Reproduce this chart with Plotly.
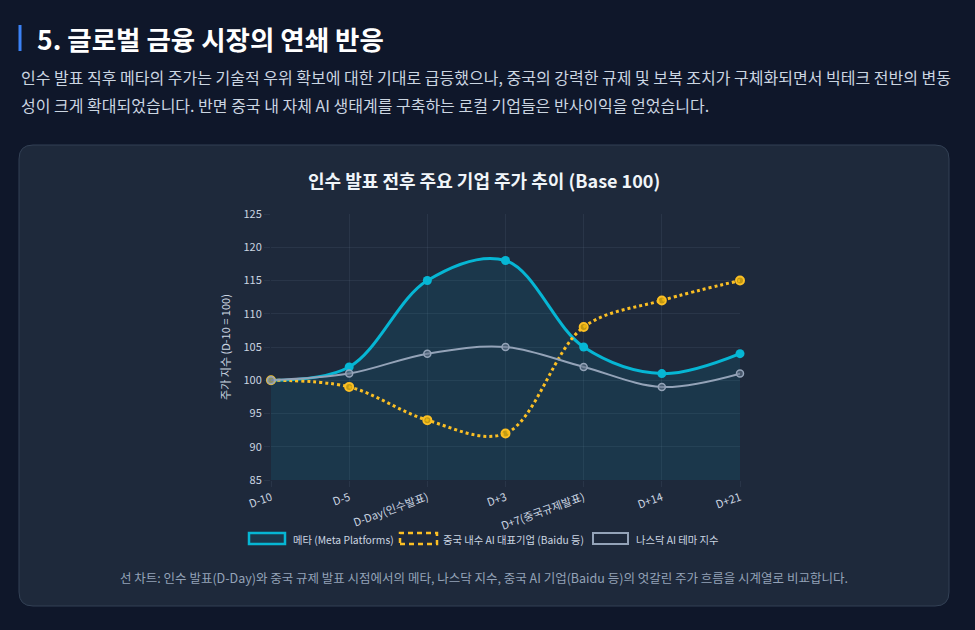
import plotly.graph_objects as go

categories = ["D-10", "D-5", "D-Day(인수발표)", "D+3", "D+7(중국규제발표)", "D+14", "D+21"]
meta_values = [100, 102, 115, 118, 105, 101, 104]
baidu_values = [100, 99, 94, 92, 108, 112, 115]
nasdaq_values = [100, 101, 104, 105, 102, 99, 101]
y_ticks = [85, 90, 95, 100, 105, 110, 115, 120, 125]
series_names = ["메타 (Meta Platforms)", "중국 내수 AI 대표기업 (Baidu 등)", "나스닥 AI 테마 지수"]

W, H = 975, 630
L, R, T, B = 271, 740, 214, 480
FONT = "Noto Sans CJK KR, Noto Sans, sans-serif"


def px(x):
    return (x - L) / (R - L)


def py(y):
    return (B - y) / (B - T)


def rounded_rect(x0, y0, x1, y1, r):
    X0, X1, Y0, Y1 = px(x0), px(x1), py(y0), py(y1)
    rx = r / (R - L)
    ry = r / (B - T)
    return (f"M {X0 + rx},{Y0} L {X1 - rx},{Y0} Q {X1},{Y0} {X1},{Y0 - ry} "
            f"L {X1},{Y1 + ry} Q {X1},{Y1} {X1 - rx},{Y1} L {X0 + rx},{Y1} "
            f"Q {X0},{Y1} {X0},{Y1 + ry} L {X0},{Y0 - ry} Q {X0},{Y0} {X0 + rx},{Y0} Z")


fig = go.Figure()

fig.add_trace(go.Scatter(
    x=categories, y=meta_values, name=series_names[0],
    mode="lines+markers", line=dict(color="#06b6d4", width=3, shape="spline", smoothing=1.0),
    marker=dict(size=9, color="#06b6d4"),
    fill="tozeroy", fillcolor="rgba(6,182,212,0.10)", cliponaxis=False,
))
fig.add_trace(go.Scatter(
    x=categories, y=baidu_values, name=series_names[1],
    mode="lines+markers", line=dict(color="#fbbf24", width=3, dash="dot", shape="spline", smoothing=1.0),
    marker=dict(size=8, color="rgba(234,179,8,0.8)", line=dict(color="#fbbf24", width=2)),
    cliponaxis=False,
))
fig.add_trace(go.Scatter(
    x=categories, y=nasdaq_values, name=series_names[2],
    mode="lines+markers", line=dict(color="#94a3b8", width=2, shape="spline", smoothing=1.0),
    marker=dict(size=7, color="rgba(100,116,139,0.6)", line=dict(color="#94a3b8", width=1.5)),
    cliponaxis=False,
))

shapes = [
    dict(type="path", xref="paper", yref="paper", path=rounded_rect(19, 145, 949, 606, 14),
         fillcolor="#1e293b", line=dict(color="#334155", width=1), layer="below"),
    dict(type="line", xref="paper", yref="paper", x0=px(20), x1=px(20), y0=py(25), y1=py(51),
         line=dict(color="#3b82f6", width=3)),
]

# custom legend boxes (Chart.js style)
legend_items = [
    (249, 285, "#06b6d4", "solid", "rgba(6,182,212,0.10)", 291),
    (400, 437, "#fbbf24", "5px,4px", "rgba(0,0,0,0)", 441),
    (593, 628, "#94a3b8", "solid", "rgba(0,0,0,0)", 634),
]
annotations = []
for (x0, x1, col, dash, fill, tx), name in zip(legend_items, series_names):
    shapes.append(dict(type="rect", xref="paper", yref="paper", x0=px(x0), x1=px(x1),
                       y0=py(544), y1=py(533), fillcolor=fill,
                       line=dict(color=col, width=2.5 if col != "#94a3b8" else 2, dash=dash)))
    annotations.append(dict(text=name, x=px(tx), y=py(539), xref="paper", yref="paper",
                            xanchor="left", yanchor="middle", showarrow=False,
                            font=dict(size=10.3, color="#cbd5e1", family=FONT)))

annotations += [
    dict(text="<b>5. 글로벌 금융 시장의 연쇄 반응</b>", x=px(35), y=py(38), xref="paper", yref="paper",
         xanchor="left", yanchor="middle", showarrow=False, font=dict(size=26.5, color="#ffffff", family=FONT)),
    dict(text="인수 발표 직후 메타의 주가는 기술적 우위 확보에 대한 기대로 급등했으나, 중국의 강력한 규제 및 보복 조치가 구체화되면서 빅테크 전반의 변동",
         x=px(19), y=py(77), xref="paper", yref="paper", xanchor="left", yanchor="middle", showarrow=False,
         font=dict(size=16, color="#cbd5e1", family=FONT)),
    dict(text="성이 크게 확대되었습니다. 반면 중국 내 자체 AI 생태계를 구축하는 로컬 기업들은 반사이익을 얻었습니다.",
         x=px(19), y=py(105), xref="paper", yref="paper", xanchor="left", yanchor="middle", showarrow=False,
         font=dict(size=16, color="#cbd5e1", family=FONT)),
    dict(text="<b>인수 발표 전후 주요 기업 주가 추이 (Base 100)</b>", x=px(484), y=py(180), xref="paper", yref="paper",
         xanchor="center", yanchor="middle", showarrow=False, font=dict(size=18, color="#f1f5f9", family=FONT)),
    dict(text="선 차트: 인수 발표(D-Day)와 중국 규제 발표 시점에서의 메타, 나스닥 지수, 중국 AI 기업(Baidu 등)의 엇갈린 주가 흐름을 시계열로 비교합니다.",
         x=px(484), y=py(577), xref="paper", yref="paper", xanchor="center", yanchor="middle", showarrow=False,
         font=dict(size=12.5, color="#94a3b8", family=FONT)),
]

fig.update_layout(
    width=W, height=H,
    margin=dict(l=L, r=W - R, t=T, b=H - B, pad=0),
    paper_bgcolor="#0f172a", plot_bgcolor="rgba(0,0,0,0)",
    font=dict(family=FONT, color="#cbd5e1", size=11),
    shapes=shapes, annotations=annotations,
    showlegend=False,
)
fig.update_xaxes(
    type="category", range=[0, 6], showgrid=True, gridcolor="rgba(148,163,184,0.10)",
    tickangle=-20, tickfont=dict(size=11, color="#cbd5e1"), ticks="outside", ticklen=6,
    tickcolor="rgba(148,163,184,0.10)", showline=False, zeroline=False,
)
fig.update_yaxes(
    range=[85, 125], tickvals=y_ticks, showgrid=True, gridcolor="rgba(148,163,184,0.10)",
    tickfont=dict(size=11, color="#cbd5e1"), ticks="outside", ticklen=6,
    tickcolor="rgba(148,163,184,0.10)", zeroline=False, showline=False,
    title=dict(text="주가 지수 (D-10 = 100)", font=dict(size=11, color="#cbd5e1"), standoff=10),
)

fig.write_html("out.html", config={"displayModeBar": False},
               post_script="document.body.style.margin='0';document.body.style.background='#0f172a';")
